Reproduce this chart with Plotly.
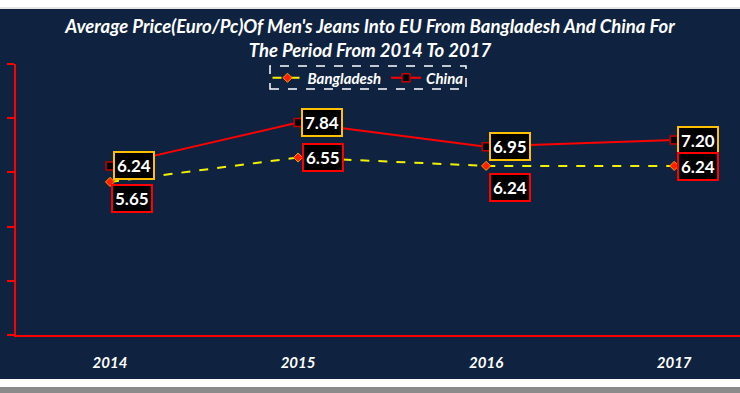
import plotly.graph_objects as go

years = ["2014", "2015", "2016", "2017"]
bangladesh = [5.65, 6.55, 6.24, 6.24]
china = [6.24, 7.84, 6.95, 7.20]
bangladesh_labels = ["5.65", "6.55", "6.24", "6.24"]
china_labels = ["6.24", "7.84", "6.95", "7.20"]

# label offsets (style), in pixels
bd_shift = [(22, -17), (25, 0), (24, -22), (24, -1)]
cn_shift = [(24, 0), (24, 0), (24, 0), (24, -1)]

NAVY = "#0F2340"
W, H = 740, 393
L, R, T, B = 16, 0, 64, 58
pw, ph = W - L - R, H - T - B

def px_x(p):
    return (p - L) / pw

def px_y(p):
    return (H - B - p) / ph

fig = go.Figure()
fig.add_trace(go.Scatter(
    x=years, y=bangladesh, name="Bangladesh", mode="lines+markers",
    line=dict(color="#F2F200", width=2, dash="dash"),
    marker=dict(symbol="diamond", size=7, color="#FF2000", line=dict(color="#FF9900", width=1)),
))
fig.add_trace(go.Scatter(
    x=years, y=china, name="China", mode="lines+markers",
    line=dict(color="#FF0000", width=2),
    marker=dict(symbol="square", size=8, color="#000000", line=dict(color="#C00000", width=1.5)),
))

for i, (yv, t, (dx, dy)) in enumerate(zip(china, china_labels, cn_shift)):
    fig.add_annotation(x=i, y=yv, xref="x", yref="y", text="<b>%s</b>" % t, showarrow=False,
                       xshift=dx, yshift=dy, bgcolor="#000000", bordercolor="#FFC000", borderwidth=2,
                       borderpad=2, font=dict(family="Lato", size=17, color="white"))
for i, (yv, t, (dx, dy)) in enumerate(zip(bangladesh, bangladesh_labels, bd_shift)):
    fig.add_annotation(x=i, y=yv, xref="x", yref="y", text="<b>%s</b>" % t, showarrow=False,
                       xshift=dx, yshift=dy, bgcolor="#000000", bordercolor="#FF0000", borderwidth=2,
                       borderpad=2, font=dict(family="Lato", size=17, color="white"))

shapes = [
    dict(type="rect", xref="paper", yref="paper", x0=px_x(-5), x1=px_x(745), y0=px_y(379), y1=px_y(9),
         fillcolor=NAVY, line=dict(width=0), layer="below"),
    dict(type="line", xref="paper", yref="paper", x0=px_x(0), x1=px_x(740), y0=px_y(8), y1=px_y(8),
         line=dict(color="#C8C8C8", width=1)),
    dict(type="rect", xref="paper", yref="paper", x0=px_x(0), x1=px_x(740), y0=px_y(393), y1=px_y(387),
         fillcolor="#8A8A8A", line=dict(width=0)),
    dict(type="rect", xref="paper", yref="paper", x0=px_x(270), x1=px_x(466), y0=px_y(89), y1=px_y(66),
         line=dict(color="white", width=1.5, dash="dash")),
]

fig.update_layout(
    width=W, height=H,
    margin=dict(l=L, r=R, t=T, b=B),
    paper_bgcolor="white", plot_bgcolor=NAVY,
    title=dict(text="<b><i>Average Price(Euro/Pc)Of Men's Jeans Into EU From Bangladesh And China For<br>The Period From 2014 To 2017</i></b>",
               x=0.5, xanchor="center", xref="container", y=1 - 33 / H, yanchor="middle", yref="container",
               font=dict(family="Lato", size=18.5, color="white")),
    showlegend=True,
    legend=dict(orientation="h", x=px_x(368), y=px_y(78), xanchor="center", yanchor="middle",
                bgcolor="rgba(0,0,0,0)", borderwidth=0, itemwidth=30,
                font=dict(family="Lato", size=15, color="white", weight="bold", style="italic")),
    xaxis=dict(type="category", range=[-0.5, 3.35], showline=True, linecolor="#FF0000", linewidth=2,
               showgrid=False, zeroline=False, ticks="", ticklabelstandoff=13,
               tickfont=dict(family="Lato", size=15, color="white"),
               tickvals=years, ticktext=["<b><i>%s</i></b>" % y for y in years]),
    yaxis=dict(range=[0, 10], dtick=2, showline=True, linecolor="#FF0000", linewidth=2,
               ticks="outside", ticklen=7, tickwidth=2, tickcolor="#FF0000",
               showticklabels=False, showgrid=False, zeroline=False),
    shapes=shapes,
)
fig.update_traces(cliponaxis=False)
fig.write_html("out.html", config={"displayModeBar": False},
               post_script="document.body.style.margin='0';document.body.style.overflow='hidden';")
